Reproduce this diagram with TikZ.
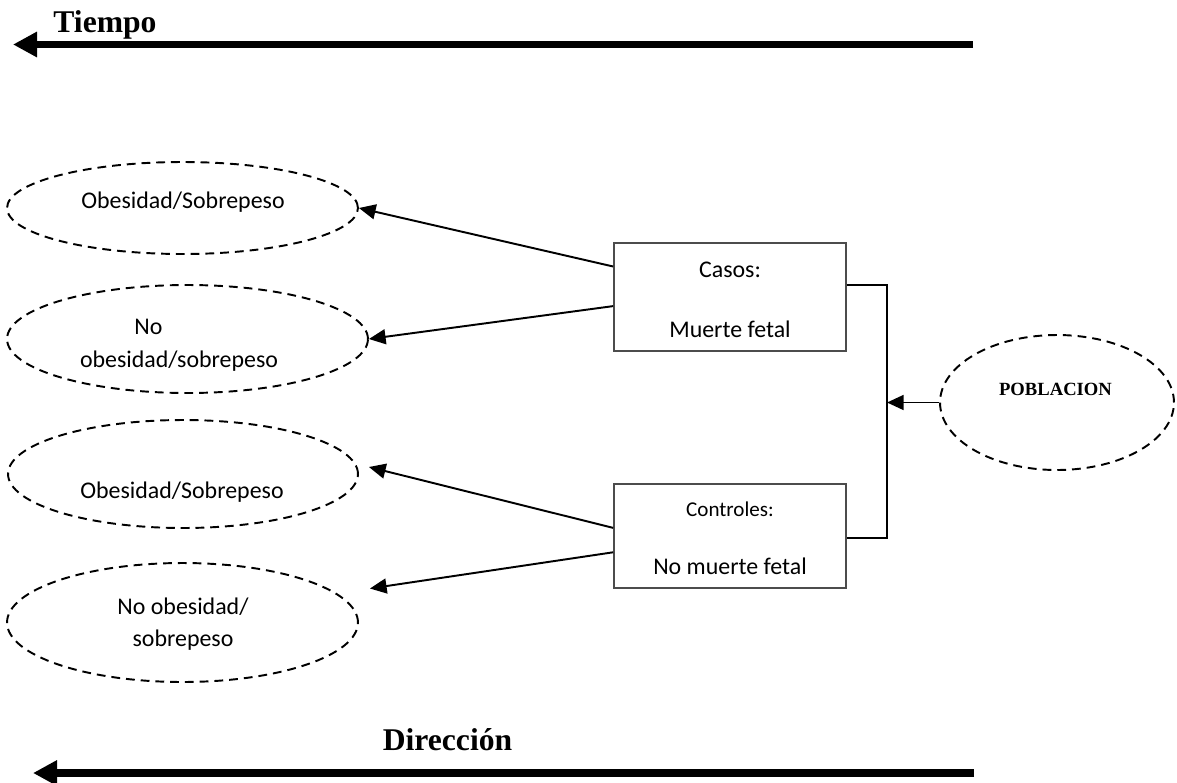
\documentclass[tikz,border=0pt]{standalone}
\usepackage{fontspec}
\setmainfont{Carlito}
\newfontfamily\serifbf{Liberation Serif}
\usetikzlibrary{shapes.geometric,arrows.meta,positioning,calc}

\begin{document}
\begin{tikzpicture}[
  x=0.02cm, y=-0.02cm,
  ell/.style={draw, ellipse, line width=1.1pt, dash pattern=on 5pt off 3.4pt, inner sep=0pt},
  grp/.style={draw=black!70, line width=1pt, inner sep=0pt, minimum width=4.64cm},
  txt/.style={anchor=base, inner sep=0pt, font=\fontsize{13.6}{16}\selectfont},
  arr/.style={-{Triangle[length=9.5pt, width=8.5pt]}, line width=1.1pt},
  bigarr/.style={-{Triangle[length=13.7pt, width=13.7pt]}, line width=4.5pt},
  ttl/.style={anchor=base, inner sep=0pt, font=\serifbf\bfseries\fontsize{18}{21}\selectfont}
]
\useasboundingbox (0,0) rectangle (1177,782);

\node[ttl] (tiempo) at (105,32) {Tiempo};
\coordinate (tEnd) at (973,44.5);
\coordinate (tTip) at (13,44.5);
\draw[bigarr] (tEnd) -- (tTip);

\node[ell, minimum width=7.02cm, minimum height=1.84cm] (obes1) at (182.5,208) {};
\node[ell, minimum width=7.22cm, minimum height=2.16cm] (noobes1) at (187.5,339) {};
\node[ell, minimum width=7.0cm, minimum height=2.16cm] (obes2) at (183,474) {};
\node[ell, minimum width=7.02cm, minimum height=2.38cm] (noobes2) at (182.5,622.5) {};
\node[ell, minimum width=4.68cm, minimum height=2.7cm] (pob) at (1057,402.5) {};

\node[txt] (tobes1) at (183,208) {Obesidad/Sobrepeso};
\node[txt] (tno1) at (148.5,334) {No};
\node[txt] (tnoobes1) at (179,367) {obesidad/sobrepeso};
\node[txt] (tobes2) at (182,498) {Obesidad/Sobrepeso};
\node[txt] (tnoobes2) at (183,614) {No obesidad/};
\node[txt] (tsobre2) at (183,646) {sobrepeso};
\node[anchor=base, inner sep=0pt, font=\serifbf\bfseries\fontsize{10.6}{12}\selectfont] (tpob) at (1055.5,395) {POBLACION};

\node[grp, minimum height=2.16cm] (casos) at (730,297) {};
\node[grp, minimum height=2.08cm] (ctrl) at (730,536) {};
\node[txt] (tcasos) at (730,277) {Casos:};
\node[txt] (tmuerte) at (730,337) {Muerte fetal};
\node[txt, font=\fontsize{12}{14}\selectfont] (tctrl) at (730,516) {Controles:};
\node[txt] (tnomuerte) at (730,574) {No muerte fetal};

\coordinate (bx) at (887,402.5);
\draw[line width=1.1pt] ($(casos.north east)!0.389!(casos.south east)$) -| (bx) |- ($(ctrl.north east)!0.519!(ctrl.south east)$);
\draw[arr] (pob) -- (bx);

\draw[arr] ($(casos.north west)!0.222!(casos.south west)$) -- (obes1.east);
\draw[arr] ($(casos.north west)!0.583!(casos.south west)$) -- (noobes1.east);
\draw[arr] ($(ctrl.north west)!0.423!(ctrl.south west)$) -- ($(obes2.east)+(10,-7)$);
\draw[arr] ($(ctrl.north west)!0.654!(ctrl.south west)$) -- ($(noobes2.east)+(11,-34)$);

\node[ttl] (direccion) at (447.5,750) {Dirección};
\coordinate (dEnd) at (974,773);
\coordinate (dTip) at (33,773);
\draw[bigarr] (dEnd) -- (dTip);

\end{tikzpicture}
\end{document}
